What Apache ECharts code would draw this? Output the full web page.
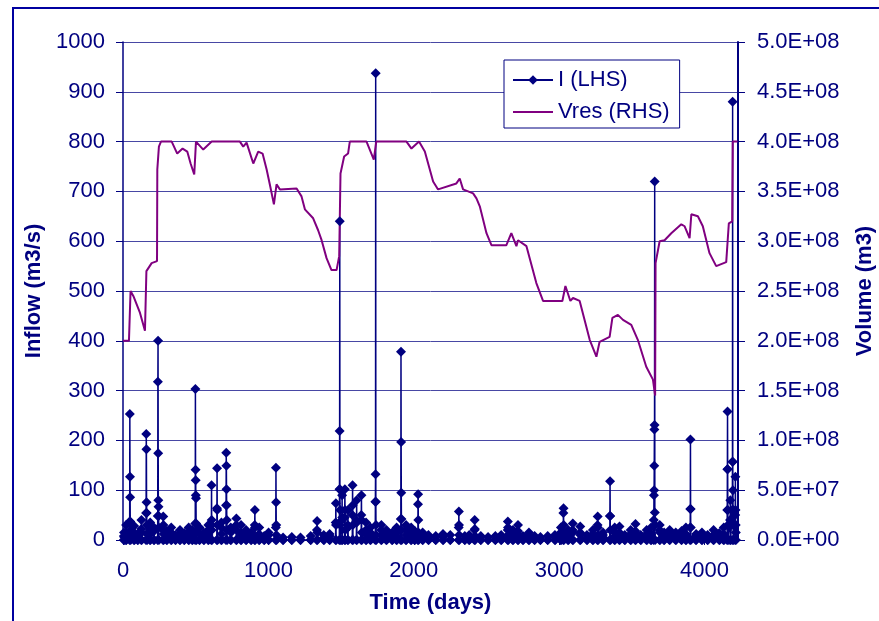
<!DOCTYPE html>
<html>
<head>
<meta charset="utf-8">
<script src="https://cdn.jsdelivr.net/npm/echarts@6/dist/echarts.min.js"></script>
<style>
  body { margin: 0; background: #fff; overflow: hidden; }
  #frame { position: absolute; left: 12px; top: 7px; width: 1000px; height: 800px;
           border-top: 2px solid #0000a0; border-left: 2px solid #0000a0; }
  #main { position: absolute; left: 0; top: 0; width: 879px; height: 621px; }
</style>
</head>
<body>
<div id="frame"></div>
<div id="main"></div>
<script>
// inflow events: start day, then daily flows (m3/s) from that day on
var eventDays = [5, 20, 45, 75, 100, 125, 158, 185, 212, 238, 275, 300, 330, 360, 390, 420, 450, 475,
  496, 525, 555, 585, 607, 645, 675, 708, 740, 778, 810, 845, 880, 905, 935, 970, 1000, 1050,
  1100, 1160, 1220, 1290, 1333, 1380, 1420, 1462, 1488, 1505, 1524, 1545, 1577, 1605, 1638,
  1670, 1700, 1735, 1775, 1810, 1850, 1880, 1910, 1945, 1980, 2005, 2028, 2060, 2100, 2150,
  2200, 2250, 2308, 2350, 2380, 2417, 2460, 2510, 2560, 2600, 2645, 2680, 2715, 2750, 2790,
  2830, 2870, 2920, 2970, 3010, 3028, 3060, 3092, 3143, 3190, 3230, 3263, 3300, 3348, 3380,
  3413, 3450, 3490, 3523, 3560, 3600, 3630, 3650, 3690, 3720, 3758, 3800, 3840, 3870, 3900,
  3940, 3980, 4020, 4060, 4100, 4130, 4155, 4175, 4190, 4210];
var eventFlows = [
  [0, 8, 15, 6, 0], [0, 30, 12, 0], [0, 37, 253, 127, 86, 37, 20, 8, 0], [0, 15, 28, 10, 0],
  [0, 12, 6, 0], [0, 22, 40, 15, 0], [0, 54, 213, 182, 76, 54, 30, 12, 0], [0, 20, 35, 12, 0],
  [0, 25, 18, 0], [0, 48, 318, 400, 174, 80, 67, 48, 25, 0], [0, 20, 47, 30, 12, 0],
  [0, 18, 10, 0], [0, 15, 25, 8, 0], [0, 10, 6, 0], [0, 12, 20, 5, 0], [0, 8, 14, 0],
  [0, 15, 25, 10, 0], [0, 12, 20, 8, 0], [0, 33, 303, 141, 120, 90, 84, 33, 15, 0],
  [0, 25, 12, 0], [0, 15, 8, 0], [0, 20, 30, 10, 0], [0, 30, 110, 40, 20, 0],
  [0, 64, 144, 60, 30, 0], [0, 25, 35, 12, 0], [0, 70, 175, 149, 102, 70, 40, 20, 0],
  [0, 25, 15, 0], [0, 30, 43, 20, 0], [0, 15, 30, 10, 0], [0, 10, 20, 5, 0], [0, 15, 8, 0],
  [0, 30, 60, 25, 0], [0, 12, 25, 8, 0], [0, 8, 5, 0], [0, 15, 10, 0], [0, 25, 145, 76, 30, 10, 0],
  [0, 5, 0], [0, 6, 0], [0, 5, 0], [0, 8, 0], [0, 20, 38, 15, 0], [0, 10, 5, 0], [0, 12, 8, 0],
  [0, 35, 74, 30, 0], [0, 102, 219, 640, 102, 60, 30, 0], [0, 40, 90, 45, 0],
  [0, 45, 102, 60, 20, 0], [0, 30, 60, 25, 0], [0, 50, 110, 70, 30, 0], [0, 40, 80, 35, 0],
  [0, 50, 90, 40, 15, 0], [0, 20, 35, 10, 0], [0, 15, 25, 8, 0], [0, 77, 132, 937, 77, 30, 10, 0],
  [0, 20, 30, 10, 0], [0, 12, 20, 5, 0], [0, 10, 15, 0], [0, 15, 25, 8, 0],
  [0, 42, 378, 197, 95, 42, 20, 0], [0, 20, 30, 10, 0], [0, 15, 25, 8, 0], [0, 10, 18, 0],
  [0, 72, 92, 40, 15, 0], [0, 15, 8, 0], [0, 10, 5, 0], [0, 8, 0], [0, 12, 6, 0], [0, 10, 0],
  [0, 25, 57, 30, 10, 0], [0, 8, 0], [0, 10, 5, 0], [0, 20, 40, 22, 8, 0], [0, 8, 0], [0, 6, 0],
  [0, 8, 0], [0, 10, 5, 0], [0, 20, 37, 25, 10, 0], [0, 12, 20, 8, 0], [0, 18, 30, 12, 0],
  [0, 8, 5, 0], [0, 10, 15, 5, 0], [0, 8, 0], [0, 6, 0], [0, 8, 0], [0, 10, 5, 0],
  [0, 15, 25, 10, 0], [0, 54, 64, 30, 12, 0], [0, 10, 20, 8, 0], [0, 20, 33, 15, 0],
  [0, 15, 27, 10, 0], [0, 10, 5, 0], [0, 12, 20, 8, 0], [0, 30, 47, 25, 10, 0], [0, 10, 15, 5, 0],
  [0, 48, 118, 48, 20, 0], [0, 15, 25, 8, 0], [0, 15, 27, 12, 0], [0, 10, 5, 0], [0, 12, 20, 8, 0],
  [0, 18, 32, 12, 0], [0, 10, 6, 0], [0, 12, 20, 8, 0], [0, 10, 25, 12, 0],
  [0, 40, 90, 100, 149, 222, 231, 720, 55, 30, 0], [0, 20, 30, 15, 0], [0, 10, 15, 5, 0],
  [0, 12, 20, 8, 0], [0, 8, 15, 5, 0], [0, 10, 18, 0], [0, 12, 25, 8, 0],
  [0, 25, 62, 202, 62, 25, 0], [0, 8, 12, 0], [0, 8, 15, 5, 0], [0, 10, 5, 0], [0, 10, 20, 8, 0],
  [0, 8, 14, 5, 0], [0, 12, 25, 10, 0], [0, 60, 142, 258, 142, 60, 30, 0], [0, 40, 80, 40, 0],
  [0, 60, 157, 880, 157, 100, 60, 30, 0], [0, 50, 127, 60, 30, 15, 0]
];

// reservoir volume (m3)
var vresDays = [0, 41, 52, 71, 117, 151, 158, 161, 197, 234, 236, 247, 261, 335, 373, 410, 442, 465,
  490, 500, 502, 552, 610, 804, 827, 850, 896, 930, 960, 988, 1010, 1038, 1056, 1079, 1194, 1228,
  1251, 1308, 1342, 1366, 1400, 1434, 1469, 1487, 1496, 1521, 1548, 1560, 1675, 1725, 1738, 1742,
  1950, 1984, 2036, 2076, 2133, 2167, 2293, 2316, 2339, 2408, 2431, 2454, 2500, 2534, 2637, 2671,
  2706, 2717, 2775, 2843, 2889, 3022, 3043, 3077, 3095, 3141, 3210, 3256, 3278, 3347, 3366, 3404,
  3439, 3496, 3541, 3599, 3645, 3660, 3663, 3691, 3725, 3771, 3840, 3863, 3897, 3909, 3954, 3988,
  4034, 4080, 4149, 4167, 4190, 4194, 4227];
var vresVol = [2.00e8, 2.00e8, 2.50e8, 2.45e8, 2.28e8, 2.10e8, 2.12e8, 2.70e8, 2.78e8, 2.80e8,
  3.72e8, 3.95e8, 4.00e8, 4.00e8, 3.88e8, 3.93e8, 3.90e8, 3.78e8, 3.67e8, 3.66e8, 4.00e8, 3.92e8,
  4.00e8, 4.00e8, 3.95e8, 3.99e8, 3.78e8, 3.90e8, 3.88e8, 3.72e8, 3.57e8, 3.37e8, 3.57e8, 3.52e8,
  3.53e8, 3.45e8, 3.32e8, 3.23e8, 3.11e8, 3.01e8, 2.83e8, 2.71e8, 2.71e8, 2.85e8, 3.68e8, 3.85e8,
  3.88e8, 4.00e8, 4.00e8, 3.82e8, 3.82e8, 4.00e8, 4.00e8, 3.93e8, 4.00e8, 3.90e8, 3.60e8, 3.52e8,
  3.58e8, 3.63e8, 3.52e8, 3.48e8, 3.43e8, 3.35e8, 3.08e8, 2.96e8, 2.96e8, 3.08e8, 2.95e8, 3.01e8,
  2.95e8, 2.58e8, 2.40e8, 2.40e8, 2.55e8, 2.40e8, 2.43e8, 2.40e8, 2.01e8, 1.84e8, 1.99e8, 2.04e8,
  2.23e8, 2.26e8, 2.21e8, 2.16e8, 2.01e8, 1.74e8, 1.61e8, 1.45e8, 2.78e8, 3.00e8, 3.01e8, 3.08e8,
  3.17e8, 3.15e8, 3.03e8, 3.27e8, 3.25e8, 3.15e8, 2.88e8, 2.75e8, 2.79e8, 3.18e8, 3.20e8, 4.00e8,
  4.00e8];

var inflow = [];
eventDays.forEach(function (d, i) {
  eventFlows[i].forEach(function (q, k) { inflow.push([d + k, q]); });
});
var vres = vresDays.map(function (d, i) { return [d, vresVol[i]]; });

var NAVY = '#000080';
var FONT = '"Liberation Sans", Arial, sans-serif';

function sci(v) {
  if (v === 0) return '0.0E+00';
  var e = Math.floor(Math.log10(v) + 1e-9);
  var m = v / Math.pow(10, e);
  return m.toFixed(1) + 'E+' + (e < 10 ? '0' + e : e);
}
function plain(v) { return String(v); }

var chart = echarts.init(document.getElementById('main'));
var option = {
  animation: false,
  backgroundColor: 'transparent',
  textStyle: { fontFamily: FONT },
  grid: { left: 123, right: 141, top: 42, bottom: 81, outerBoundsMode: 'none', containLabel: false },
  legend: {
    orient: 'vertical', left: 504, top: 60,
    padding: [8, 10, 4, 8], itemGap: 8, itemWidth: 40, itemHeight: 12,
    borderColor: NAVY, borderWidth: 1, backgroundColor: '#fff',
    textStyle: { color: NAVY, fontSize: 22, fontFamily: FONT, lineHeight: 24 },
    data: ['I (LHS)', { name: 'Vres (RHS)', itemStyle: { opacity: 0 } }]
  },
  xAxis: {
    type: 'value', min: 0, max: 4230, interval: 1000,
    name: 'Time (days)', nameLocation: 'middle', nameGap: 52,
    nameTextStyle: { color: NAVY, fontSize: 22, fontWeight: 'bold', fontFamily: FONT },
    axisLine: { lineStyle: { color: NAVY, width: 1 } },
    axisTick: { length: 5, lineStyle: { color: NAVY } },
    axisLabel: { color: NAVY, fontSize: 22, margin: 20, showMaxLabel: false, fontFamily: FONT, formatter: plain },
    splitLine: { show: false }
  },
  yAxis: [{
    type: 'value', min: 0, max: 1000, interval: 100,
    name: 'Inflow (m3/s)', nameLocation: 'middle', nameGap: 76, nameRotate: 90,
    nameTextStyle: { color: NAVY, fontSize: 22, fontWeight: 'bold', fontFamily: FONT },
    axisLine: { show: true, lineStyle: { color: NAVY, width: 1.5 } },
    axisTick: { show: true, length: 7, lineStyle: { color: NAVY } },
    axisLabel: { color: NAVY, fontSize: 22, margin: 18, fontFamily: FONT, formatter: plain },
    splitLine: { lineStyle: { color: '#4848a4', width: 1 } }
  }, {
    type: 'value', min: 0, max: 5e8, interval: 5e7, position: 'right',
    name: 'Volume (m3)', nameLocation: 'middle', nameGap: 116, nameRotate: 90,
    nameTextStyle: { color: NAVY, fontSize: 22, fontWeight: 'bold', fontFamily: FONT },
    axisLine: { show: true, lineStyle: { color: NAVY, width: 2 } },
    axisTick: { show: true, length: 7, lineStyle: { color: NAVY } },
    axisLabel: { color: NAVY, fontSize: 22, margin: 19, formatter: sci, fontFamily: FONT },
    splitLine: { show: false }
  }],
  series: [{
    name: 'I (LHS)', type: 'line', data: inflow,
    symbol: 'diamond', symbolSize: 10,
    lineStyle: { color: NAVY, width: 1.5 },
    itemStyle: { color: NAVY }
  }, {
    name: 'Vres (RHS)', type: 'line', yAxisIndex: 1, data: vres,
    symbol: 'none',
    lineStyle: { color: '#800080', width: 2 },
    itemStyle: { color: '#800080' }
  }]
};
chart.setOption(option);
</script>
</body>
</html>
